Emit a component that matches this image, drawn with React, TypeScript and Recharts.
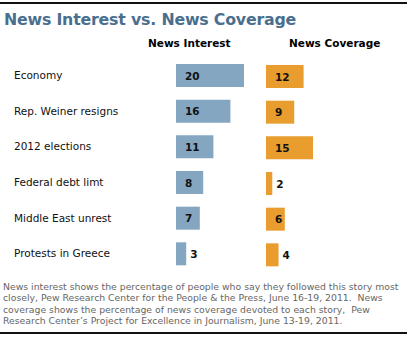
import React from "react";
import { BarChart, Bar, XAxis, YAxis, LabelList } from "recharts";

const categories = [
  "Economy",
  "Rep. Weiner resigns",
  "2012 elections",
  "Federal debt limt",
  "Middle East unrest",
  "Protests in Greece",
];
const newsInterest = [20, 16, 11, 8, 7, 3];
const newsCoverage = [12, 9, 15, 2, 6, 4];

const title = "News Interest vs. News Coverage";
const headerInterest = "News Interest";
const headerCoverage = "News Coverage";
const footnoteLines = [
  "News interest shows the percentage of people who say they followed this story most",
  "closely, Pew Research Center for the People & the Press, June 16-19, 2011.  News",
  "coverage shows the percentage of news coverage devoted to each story,  Pew",
  "Research Center\u2019s Project for Excellence in Journalism, June 13-19, 2011.",
];

const data = categories.map((c, i) => ({
  name: c,
  interest: newsInterest[i],
  coverage: newsCoverage[i],
}));

const FONT = "'DejaVu Sans', Verdana, sans-serif";

const ValueLabel = (props: any) => {
  const { x, y, width, height, value } = props;
  const inside = width >= 15;
  const tx = inside ? x + 9 : x + width + 4;
  return (
    <text
      x={tx}
      y={y + height / 2}
      dy={4}
      fontFamily={FONT}
      fontWeight="bold"
      fontSize={10.5}
      fill="#111"
    >
      {value}
    </text>
  );
};

const CatTick = (props: any) => {
  const { y, payload } = props;
  return (
    <text x={14} y={y} dy={3} fontFamily={FONT} fontSize={10.5} fill="#111" textAnchor="start">
      {payload.value}
    </text>
  );
};

export default function App() {
  return (
    <div
      style={{
        position: "absolute",
        left: 0,
        top: 0,
        width: 409,
        height: 337,
        background: "#fff",
        fontFamily: FONT,
      }}
    >
      <div style={{ position: "absolute", left: 0, top: 2, width: 407, height: 2, background: "#111" }} />
      <div
        style={{
          position: "absolute",
          left: 4,
          top: 10,
          fontSize: 15.8,
          fontWeight: "bold",
          color: "#4a6f8e",
          whiteSpace: "nowrap",
          letterSpacing: -0.2,
        }}
      >
        {title}
      </div>
      <div
        style={{ position: "absolute", left: 148, top: 37, fontSize: 10.5, fontWeight: "bold", color: "#000", whiteSpace: "nowrap" }}
      >
        {headerInterest}
      </div>
      <div
        style={{ position: "absolute", left: 289, top: 37, fontSize: 10.5, fontWeight: "bold", color: "#000", whiteSpace: "nowrap" }}
      >
        {headerCoverage}
      </div>

      <div style={{ position: "absolute", left: 0, top: 0 }}>
        <BarChart
          width={260}
          height={290}
          data={data}
          layout="vertical"
          margin={{ top: 58, right: 16, bottom: 18, left: 0 }}
          barSize={23}
          barCategoryGap={0}
        >
          <XAxis type="number" dataKey="interest" domain={[0, 20]} hide />
          <YAxis
            type="category"
            dataKey="name"
            width={176}
            axisLine={false}
            tickLine={false}
            tick={<CatTick />}
            interval={0}
          />
          <Bar dataKey="interest" fill="#84a6c0" isAnimationActive={false}>
            <LabelList dataKey="interest" content={<ValueLabel />} />
          </Bar>
        </BarChart>
      </div>

      <div style={{ position: "absolute", left: 266, top: 1 }}>
        <BarChart
          width={100}
          height={290}
          data={data}
          layout="vertical"
          margin={{ top: 58, right: 53, bottom: 18, left: 0 }}
          barSize={23}
          barCategoryGap={0}
        >
          <XAxis type="number" dataKey="coverage" domain={[0, 15]} hide />
          <YAxis type="category" dataKey="name" hide />
          <Bar dataKey="coverage" fill="#e99d2f" isAnimationActive={false}>
            <LabelList dataKey="coverage" content={<ValueLabel />} />
          </Bar>
        </BarChart>
      </div>

      <div
        style={{
          position: "absolute",
          left: 3,
          top: 281,
          fontSize: 9.3,
          lineHeight: "11.3px",
          color: "#666",
          whiteSpace: "pre",
        }}
      >
        {footnoteLines.join("\n")}
      </div>
      <div style={{ position: "absolute", left: 0, top: 332, width: 407, height: 2, background: "#111" }} />
    </div>
  );
}
